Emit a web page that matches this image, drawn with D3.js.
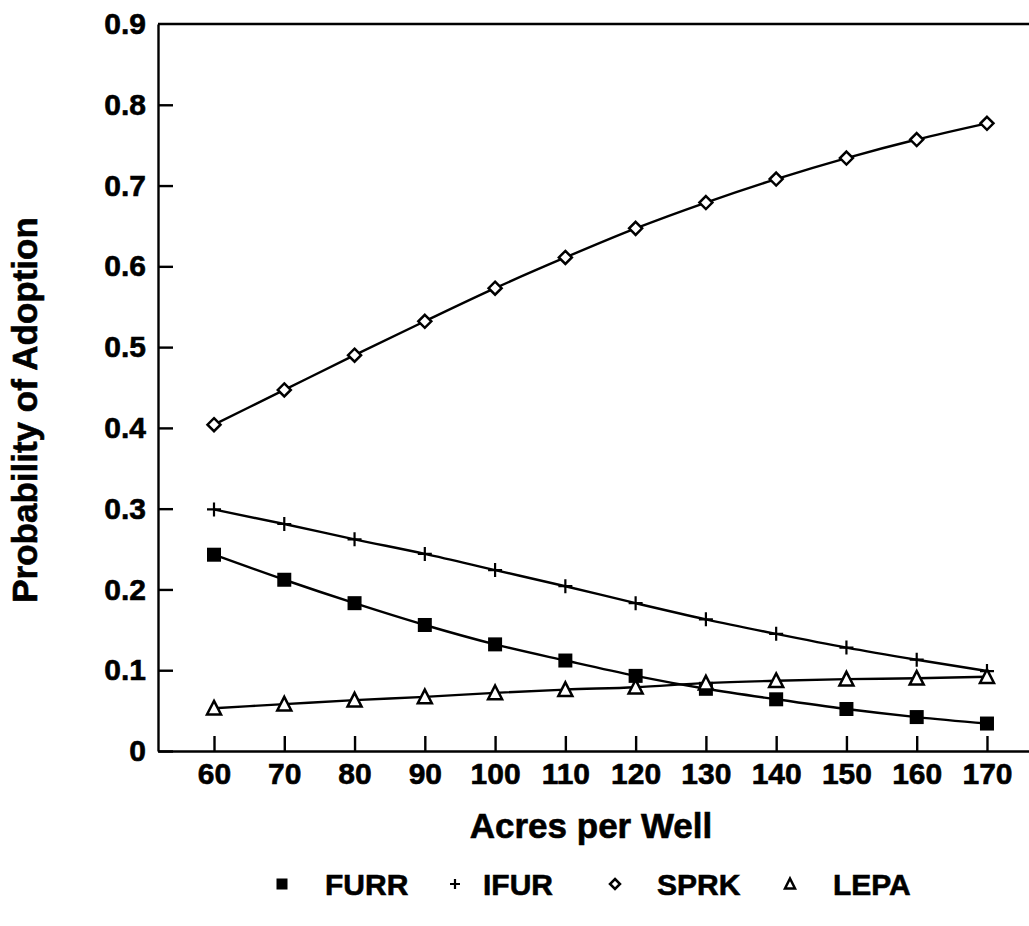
<!DOCTYPE html>
<html>
<head>
<meta charset="utf-8">
<script src="https://cdn.jsdelivr.net/npm/d3@7"></script>
<style>
  body { margin: 0; background: #fff; }
  svg { display: block; }
  text { font-family: "Liberation Sans", Arial, sans-serif; font-weight: bold; fill: #000; stroke: #000; stroke-width: 0.6px; }
</style>
</head>
<body>
<svg class="chart"></svg>
<script>
// Datos
var acres = [60, 70, 80, 90, 100, 110, 120, 130, 140, 150, 160, 170];
var furr = [0.243, 0.212, 0.183, 0.156, 0.132, 0.112, 0.093, 0.077, 0.064, 0.052, 0.042, 0.034];
var ifur = [0.299, 0.281, 0.262, 0.244, 0.224, 0.204, 0.183, 0.163, 0.145, 0.128, 0.113, 0.099];
var sprk = [0.404, 0.447, 0.490, 0.532, 0.573, 0.611, 0.647, 0.679, 0.708, 0.734, 0.757, 0.777];
var lepa = [0.053, 0.058, 0.063, 0.067, 0.072, 0.076, 0.079, 0.084, 0.087, 0.089, 0.090, 0.092];
var yTicks = [0, 0.1, 0.2, 0.3, 0.4, 0.5, 0.6, 0.7, 0.8, 0.9];
var seriesNames = ["FURR", "IFUR", "SPRK", "LEPA"];

var series = [
  { name: "FURR", values: furr, shape: "square" },
  { name: "IFUR", values: ifur, shape: "plus" },
  { name: "SPRK", values: sprk, shape: "diamond" },
  { name: "LEPA", values: lepa, shape: "triangle" }
];

var W = 1029, H = 926;
var plot = { left: 158, right: 1029, top: 24, bottom: 751 };

var svg = d3.select(".chart")
    .attr("width", W)
    .attr("height", H);

// Escalas
var x = d3.scaleLinear().domain([52.03, 175.98]).range([plot.left, plot.right]);
var y = d3.scaleLinear().domain([0, 0.9]).range([plot.bottom, plot.top]);

// Ejes
var yAxis = svg.append("g")
    .attr("transform", "translate(" + plot.left + ",0)")
    .call(d3.axisLeft(y).tickValues(yTicks).tickSize(-15).tickSizeOuter(0).tickPadding(12)
      .tickFormat(function(d) { return d === 0 ? "0" : d.toFixed(1); }));

var xAxis = svg.append("g")
    .attr("transform", "translate(0," + plot.bottom + ")")
    .call(d3.axisBottom(x).tickValues(acres).tickSize(-15).tickSizeOuter(0).tickPadding(12)
      .tickFormat(d3.format("d")));

[xAxis, yAxis].forEach(function(a) {
  a.selectAll("path, line").attr("stroke", "#000").attr("stroke-width", 2.4);
  a.selectAll("text").style("font-size", "30px").attr("fill", "#000");
});
yAxis.selectAll(".tick").filter(function(d) { return d === 0.9; }).select("line").remove();

// Línea superior
svg.append("line")
    .attr("x1", plot.left).attr("x2", plot.right)
    .attr("y1", y(0.9)).attr("y2", y(0.9))
    .attr("stroke", "#000").attr("stroke-width", 2.4);

// Títulos de ejes
svg.append("text")
    .attr("transform", "translate(37,410) rotate(-90)")
    .attr("text-anchor", "middle")
    .style("font-size", "35px")
    .text("Probability of Adoption");

svg.append("text")
    .attr("x", 591).attr("y", 838)
    .attr("text-anchor", "middle")
    .style("font-size", "35px")
    .text("Acres per Well");

// Marcadores
function drawMarker(g, shape, s) {
  if (shape === "square") {
    g.append("rect").attr("x", -s / 2).attr("y", -s / 2).attr("width", s).attr("height", s)
      .attr("fill", "#000");
  } else if (shape === "plus") {
    g.append("path").attr("d", "M" + (-s / 2) + ",0H" + (s / 2) + "M0," + (-s / 2) + "V" + (s / 2))
      .attr("stroke", "#000").attr("stroke-width", 2.2).attr("fill", "none");
  } else if (shape === "diamond") {
    var r = s / 2;
    g.append("path").attr("d", "M0," + (-r) + "L" + r + ",0L0," + r + "L" + (-r) + ",0Z")
      .attr("stroke", "#000").attr("stroke-width", 2.5).attr("fill", "#fff");
  } else if (shape === "triangle") {
    var h = s * 0.9;
    g.append("path").attr("d", "M0," + (-h / 2 - 1) + "L" + (s / 2) + "," + (h / 2) + "L" + (-s / 2) + "," + (h / 2) + "Z")
      .attr("stroke", "#000").attr("stroke-width", 2.5).attr("fill", "#fff");
  }
}

var line = d3.line()
    .x(function(d, i) { return x(acres[i]); })
    .y(function(d) { return y(d); })
    .curve(d3.curveMonotoneX);

series.forEach(function(s) {
  svg.append("path")
      .datum(s.values)
      .attr("d", line)
      .attr("fill", "none")
      .attr("stroke", "#000")
      .attr("stroke-width", 2.4);
});

series.forEach(function(s) {
  svg.selectAll(".m-" + s.name)
      .data(s.values)
    .enter().append("g")
      .attr("transform", function(d, i) { return "translate(" + x(acres[i]) + "," + y(d) + ")"; })
      .each(function() { drawMarker(d3.select(this), s.shape, s.shape === "diamond" ? 13 : 14); });
});

// Leyenda
var legendMarkX = [282, 455, 615, 790];
var legendTextX = [325, 483, 657, 833];
var legendY = 884;
series.forEach(function(s, i) {
  var g = svg.append("g").attr("transform", "translate(" + legendMarkX[i] + "," + legendY + ")");
  drawMarker(g, s.shape, s.shape === "square" ? 11 : 10);
  svg.append("text")
      .attr("x", legendTextX[i]).attr("y", legendY + 11)
      .style("font-size", "30px")
      .text(seriesNames[i]);
});
</script>
</body>
</html>
